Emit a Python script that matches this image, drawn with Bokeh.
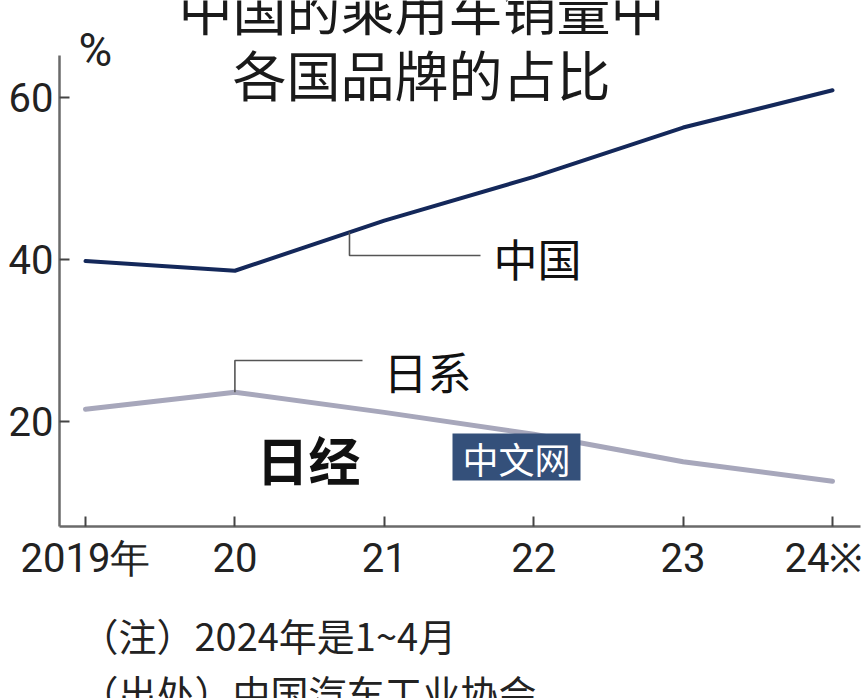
from bokeh.plotting import figure
from bokeh.layouts import column
from bokeh.models import FixedTicker, Range1d
from bokeh.core.properties import value
from bokeh.embed import file_html
from bokeh.resources import INLINE

# ---- data ----
years = [2019, 2020, 2021, 2022, 2023, 2024]
year_labels = ["2019年", "20", "21", "22", "23", "24※"]
china_share = [39.8, 38.6, 44.8, 50.2, 56.3, 60.9]
japan_share = [21.5, 23.6, 21.1, 18.4, 15.0, 12.6]
y_ticks = [20, 40, 60]
title_lines = ["中国的乘用车销量中", "各国品牌的占比"]
notes = ["（注）2024年是1~4月", "（出处）中国汽车工业协会"]

CJK = value("Noto Sans CJK SC")
NUM = "Roboto"

W = 862
MAIN_H = 596
NOTE_H = 102
FRAME_L, FRAME_R = 59, 860

# frame: page x 59..860, page y 0..526 ; 65.2 at y=55, 7 at y=526
PX_PER_UNIT = 471.0 / 58.2
Y_TOP = 65.2 + 55 / PX_PER_UNIT
PX_PER_YEAR = 149.4
X0 = 2019 - (85 - FRAME_L) / PX_PER_YEAR
X1 = 2024 + (FRAME_R - 832) / PX_PER_YEAR


def vy(page_y):
    return Y_TOP - page_y / PX_PER_UNIT


def vx(page_x):
    return 2019 + (page_x - 85) / PX_PER_YEAR


p = figure(width=W, height=MAIN_H, output_backend="svg", toolbar_location=None,
           x_range=Range1d(X0, X1), y_range=Range1d(7.0, Y_TOP),
           min_border_left=FRAME_L, min_border_top=0, min_border_right=W - FRAME_R,
           min_border_bottom=MAIN_H - 526)
p.outline_line_color = None
p.background_fill_color = "white"
p.border_fill_color = "white"
p.xgrid.visible = False
p.ygrid.visible = False

for ax in (p.xaxis[0], p.yaxis[0]):
    ax.axis_line_color = "#6a6a6a"
    ax.axis_line_width = 2.5
    ax.major_tick_line_color = "#444444"
    ax.major_tick_line_width = 2
    ax.major_tick_in = 10
    ax.major_tick_out = 0
    ax.minor_tick_line_color = None
    ax.major_label_text_font = NUM
    ax.major_label_text_font_size = "40px"
    ax.major_label_text_color = "#222222"

p.xaxis.ticker = FixedTicker(ticks=years)
p.xaxis.major_label_overrides = {y: l for y, l in zip(years, year_labels)}
p.xaxis.major_label_standoff = 8
p.yaxis.ticker = FixedTicker(ticks=y_ticks)
p.yaxis.major_label_standoff = 6
p.yaxis.bounds = (7.0, 65.2)

p.line(years, japan_share, line_color="#a7a7bb", line_width=5, line_cap="round", line_join="round")
p.line(years, china_share, line_color="#14285a", line_width=4, line_cap="round", line_join="round")

# leader lines + series labels
lead_x = 2020.767
i = 1
lead_y = china_share[i] + (china_share[i + 1] - china_share[i]) * (lead_x - years[i])
p.line([lead_x, lead_x, vx(480)], [lead_y, vy(255), vy(255)], line_color="#555555", line_width=1.6)
p.text([vx(493)], [vy(257)], text=["中国"], text_font=CJK, text_font_size="44px",
       text_baseline="middle", text_align="left", text_color="#111111")

p.line([years[1], years[1], vx(362)], [japan_share[1], vy(360), vy(360)], line_color="#555555", line_width=1.6)
p.text([vx(383)], [vy(370)], text=["日系"], text_font=CJK, text_font_size="44px",
       text_baseline="middle", text_align="left", text_color="#111111")

# title
p.text([vx(421), vx(421)], [vy(7), vy(73)], text=title_lines, text_font=CJK,
       text_font_size="54px", text_align="center", text_baseline="middle", text_color="#1a1a1a")
# unit
p.text([vx(78)], [vy(49)], text=["%"], text_font=value(NUM), text_font_size="46px",
       text_align="left", text_baseline="middle", text_color="#222222")

# watermark
p.text([vx(256)], [vy(458)], text=["日经"], text_font=CJK, text_font_size="52px",
       text_font_style="bold", text_align="left", text_baseline="middle", text_color="#111111")
p.quad(left=[vx(452)], right=[vx(580)], top=[vy(433)], bottom=[vy(480)],
       fill_color="#34507a", line_color=None)
p.text([vx(516)], [vy(457)], text=["中文网"], text_font=CJK, text_font_size="36px",
       text_align="center", text_baseline="middle", text_color="white")

# notes figure (its frame is aligned with the main frame by the column layout)
n = figure(width=W, height=NOTE_H, output_backend="svg", toolbar_location=None,
           x_range=Range1d(FRAME_L, FRAME_R), y_range=Range1d(MAIN_H + NOTE_H, MAIN_H),
           min_border=0, x_axis_type=None, y_axis_type=None)
n.outline_line_color = None
n.xgrid.visible = False
n.ygrid.visible = False
n.text([80, 80], [634, 691], text=notes, text_font=CJK, text_font_size="38px",
       text_align="left", text_baseline="middle", text_color="#222222")

layout = column(p, n, spacing=0)
open("out.html", "w").write(file_html(layout, INLINE))
